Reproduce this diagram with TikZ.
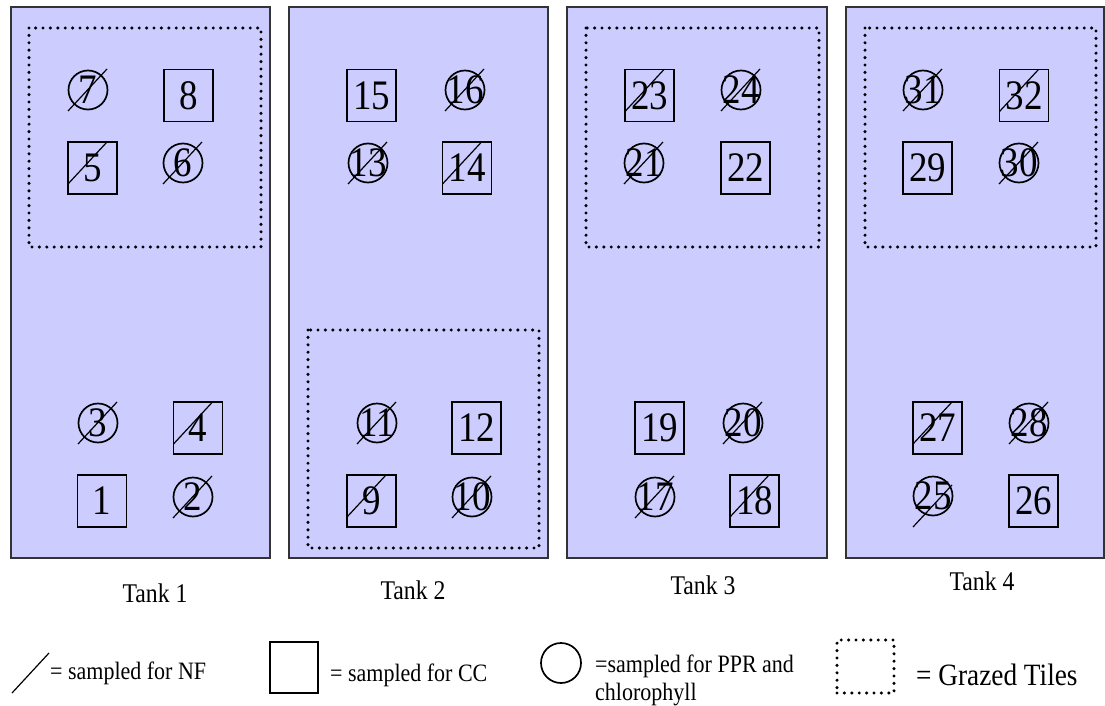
\documentclass[tikz,border=0pt]{standalone}
\usepackage{fontspec}
\setmainfont{Liberation Serif}[FakeStretch=0.88]
\definecolor{tankfill}{RGB}{204,204,255}
\tikzset{
  tank/.style={draw=black!80, line width=1.5pt, fill=tankfill},
  grazed/.style={draw, line width=3.4pt, line cap=round, dash pattern=on 0pt off 7.4pt},
  tilebox/.style={draw, line width=1.8pt, minimum width=49pt, minimum height=52pt, inner sep=0pt},
  tilecirc/.style={draw, circle, line width=1.7pt, minimum size=39pt, inner sep=0pt},
  nfline/.style={line width=1.2pt},
  every label/.style={font=\fontsize{42}{42}\selectfont, inner sep=0pt},
  tanklabel/.style={font=\fontsize{27}{27}\selectfont},
  legendtext/.style={font=\fontsize{25}{28}\selectfont, inner sep=0pt}
}
\begin{document}
\begin{tikzpicture}[x=1pt, y=-1pt]
            \useasboundingbox (0,0) rectangle (1105,706);

            % tanks and grazed areas
            \path[tank] (11,7) rectangle (270,558);
            \path[tank] (289,7) rectangle (548,558);
            \path[tank] (567,7) rectangle (827,558);
            \path[tank] (846,7) rectangle (1104,558);

            \path[grazed] (29,28) rectangle (261,247);
            \path[grazed] (308,330) rectangle (539,548);
            \path[grazed] (586,28) rectangle (819,247);
            \path[grazed] (865,28) rectangle (1096,247);

            % tiles
            \foreach \n/\x/\y in {8/188.5/95.5, 5/92.5/168, 4/198/428, 1/102/501,
                                  15/371.5/95.5, 14/467/168, 12/476.5/428, 9/371.5/501,
                                  23/649.5/95.5, 22/745.5/168, 19/659.5/428, 18/754.5/501,
                                  32/1024/95.5, 29/927.5/168, 27/937.5/428, 26/1033.5/501}
                \node[tilebox, label=center:\n] (t\n) at (\x,\y) {};
            \foreach \n/\x/\y in {7/88/90, 6/183/163, 3/98/423, 2/193/497,
                                  16/465/90, 13/368/163, 11/377/423, 10/472/497,
                                  24/741/90, 21/644/163, 20/743/423, 17/655/497,
                                  31/923/90, 30/1019/163, 28/1029/423, 25/933/496}
                \node[tilecirc, label=center:\n] (t\n) at (\x,\y) {};

            % NF slashes
            \foreach \n in {7,6,3,2,16,13,11,10,24,21,20,17,31,30,28}
                \draw[nfline] ([shift={(-20,21)}]t\n.center) -- ([shift={(19,-21)}]t\n.center);
            \foreach \n in {5,4,14,9,23,18,32,27}
                \draw[nfline] ([shift={(-24.5,16)}]t\n.center) -- ([shift={(14.5,-26)}]t\n.center);
            \draw[nfline] ([shift={(-20,31)}]t25.center) -- ([shift={(19,-11)}]t25.center);

            \node[tanklabel] (tank1) at (155,593) {Tank 1};
            \node[tanklabel] (tank2) at (413,590) {Tank 2};
            \node[tanklabel] (tank3) at (703,585) {Tank 3};
            \node[tanklabel] (tank4) at (982,581) {Tank 4};

            % legend
            \coordinate (nfa) at (12,693);
            \coordinate (nfb) at (49,653);
            \draw[nfline] (nfa) -- (nfb);
            \node[legendtext, anchor=west] (nftext) at (50,673) {= sampled for NF};

            \node[tilebox, minimum width=48pt, minimum height=51pt] (ccbox) at (294,667.5) {};
            \node[legendtext, anchor=west] (cctext) at (330,675) {= sampled for CC};

            \node[tilecirc, minimum size=40pt] (pprcirc) at (561,663) {};
            \node[legendtext, anchor=north west, align=left] (pprtext) at (595,655)
                {=sampled for PPR and\\chlorophyll};

            \node[grazed, minimum width=57pt, minimum height=53pt, inner sep=0pt] (grkey) at (865.5,666.5) {};
            \node[anchor=west, inner sep=0pt, font=\fontsize{31}{31}\selectfont] (grtext) at (916,675) {= Grazed Tiles};
        \end{tikzpicture}
\end{document}
